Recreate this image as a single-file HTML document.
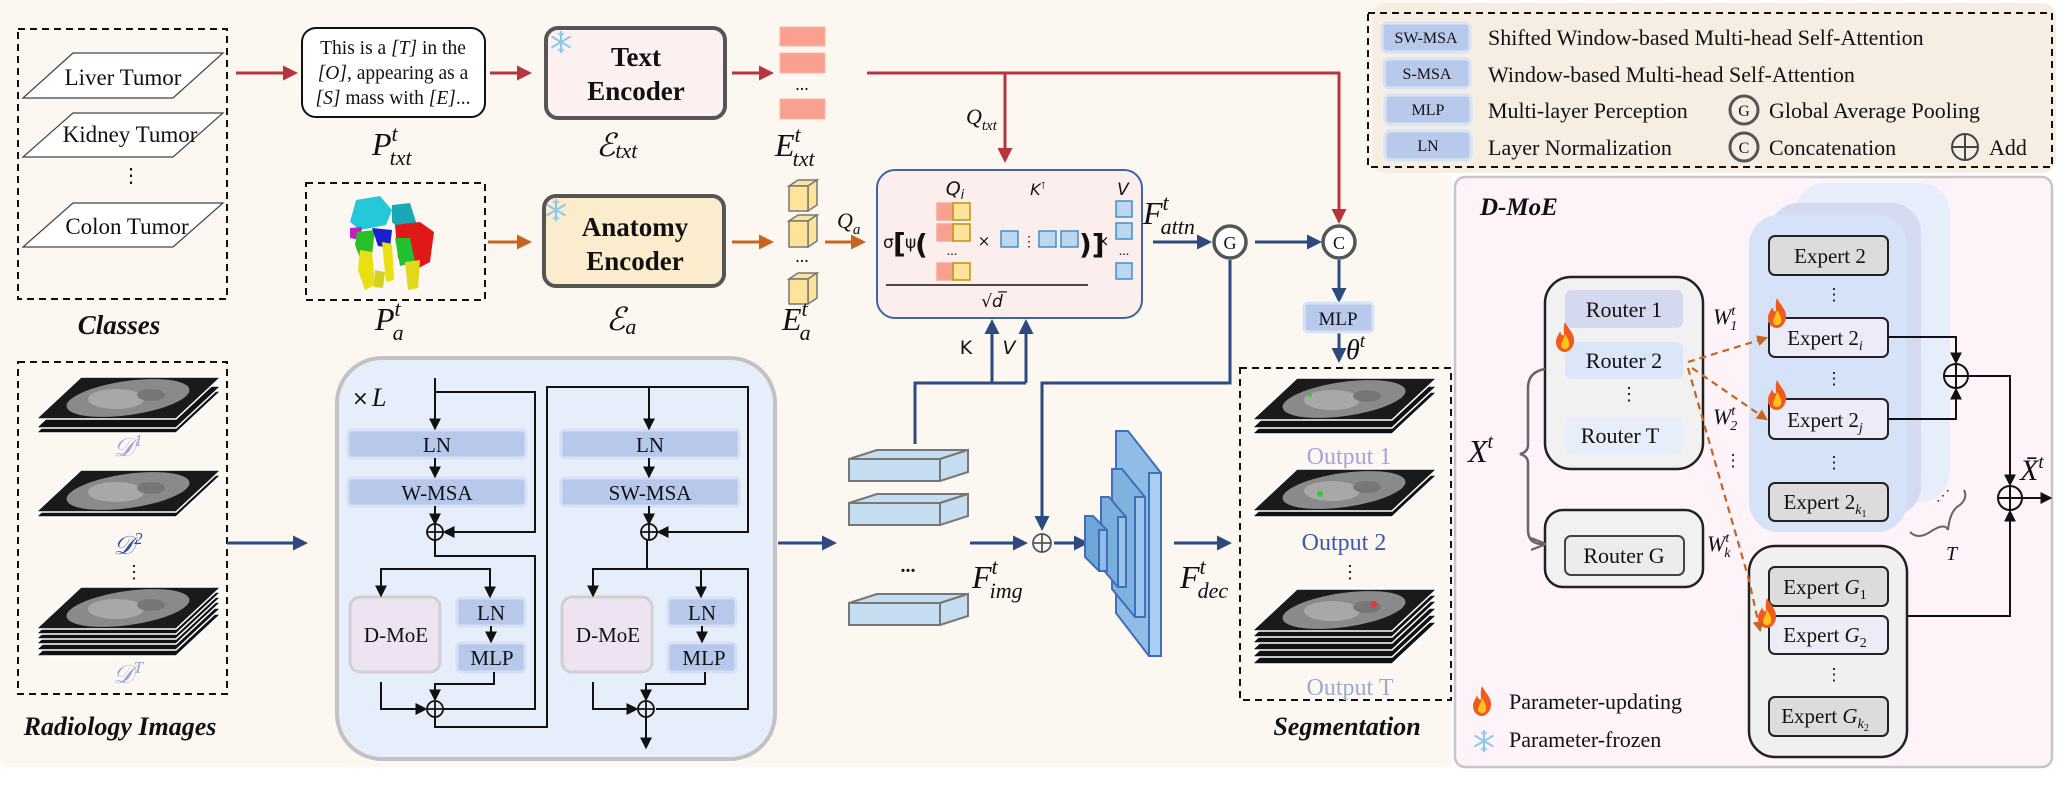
<!DOCTYPE html>
<html><head><meta charset="utf-8"><style>
html,body{margin:0;padding:0;background:#fff;}
svg{display:block;font-family:"Liberation Serif","DejaVu Serif",serif;}
text{font-family:"Liberation Serif","DejaVu Serif",serif;fill:#111;}
text[font-family="DejaVu Sans"]{font-family:"DejaVu Sans",sans-serif;}
.m{font-style:italic;}
</style></head><body>
<svg width="2068" height="808" viewBox="0 0 2068 808" xmlns="http://www.w3.org/2000/svg" font-family="Liberation Serif, serif">
<defs>
<marker id="ar" viewBox="0 0 10 10" refX="8" refY="5" markerWidth="5" markerHeight="5" orient="auto"><path d="M0,0L10,5L0,10z" fill="#b8343c"/></marker>
<marker id="ao" viewBox="0 0 10 10" refX="8" refY="5" markerWidth="5" markerHeight="5" orient="auto"><path d="M0,0L10,5L0,10z" fill="#c8641e"/></marker>
<marker id="an" viewBox="0 0 10 10" refX="8" refY="5" markerWidth="5" markerHeight="5" orient="auto"><path d="M0,0L10,5L0,10z" fill="#2a4a80"/></marker>
<marker id="ak" viewBox="0 0 10 10" refX="8" refY="5" markerWidth="6" markerHeight="6" orient="auto"><path d="M0,0L10,5L0,10z" fill="#111"/></marker>
<marker id="ag" viewBox="0 0 10 10" refX="8" refY="5" markerWidth="6" markerHeight="6" orient="auto"><path d="M0,1L10,5L0,9" fill="none" stroke="#666" stroke-width="1.5"/></marker>
<g id="slice"><polygon points="0,42 45,0 185,0 140,42" fill="#111" stroke="#fff" stroke-width="1.5"/></g>
<g id="ctop"><polygon points="0,42 45,0 185,0 140,42" fill="#1a1a1a" stroke="#fff" stroke-width="1.5"/><ellipse cx="92" cy="21" rx="62" ry="17" fill="#8a8a8a" transform="rotate(-8 92 21)"/><ellipse cx="80" cy="22" rx="28" ry="10" fill="#a8a8a8"/><ellipse cx="115" cy="18" rx="14" ry="6" fill="#777"/></g>
<g id="fire"><path d="M10,0C14,8 20,12 19,20C18,27 13,30 10,30C5,30 1,26 1,20C1,15 4,13 5,9C6,13 8,14 9,13C9,9 8,5 10,0z" fill="#f25a1d"/><path d="M10,12C13,17 15,20 14,24C13,28 7,28 6,24C6,21 8,19 10,12z" fill="#ffc21f"/></g>
<g id="snow" stroke="#8cc8ee" stroke-width="2" fill="none"><path d="M0,-11V11M-9.5,-5.5L9.5,5.5M-9.5,5.5L9.5,-5.5"/><path d="M-3,-9L0,-6L3,-9M-3,9L0,6L3,9" stroke-width="1.4"/></g>
</defs>

<path d="M0,0H1440V175H1452V767H12Q0,767 0,755Z" fill="#fcf8f1"/>
<rect x="1372" y="3" width="684" height="170" rx="14" fill="#f6ede3"/>
<rect x="1368" y="13" width="684" height="154" fill="none" stroke="#111" stroke-width="2" stroke-dasharray="7,5"/>
<rect x="1455" y="177" width="597" height="590" rx="10" fill="#fdf3f8" stroke="#c6c6c6" stroke-width="2.5"/>

<rect x="18" y="29" width="209" height="270" fill="none" stroke="#111" stroke-width="2" stroke-dasharray="7,5"/>
<polygon points="23,98 73,53 223,53 173,98" fill="#fff" stroke="#444" stroke-width="1.2"/>
<text x="123" y="85" font-size="23" text-anchor="middle">Liver Tumor</text>
<polygon points="23,157 73,113 223,113 173,157" fill="#fff" stroke="#444" stroke-width="1.2"/>
<text x="130" y="142" font-size="23" text-anchor="middle">Kidney Tumor</text>
<text x="131" y="182" font-size="20" text-anchor="middle">⋮</text>
<polygon points="23,247 73,203 223,203 173,247" fill="#fff" stroke="#444" stroke-width="1.2"/>
<text x="127" y="234" font-size="23" text-anchor="middle">Colon Tumor</text>
<text x="119" y="334" font-size="27" font-weight="bold" font-style="italic" text-anchor="middle">Classes</text>

<rect x="302" y="28" width="183" height="89" rx="14" fill="#fff" stroke="#111" stroke-width="2"/>
<text x="393" y="54" font-size="19.5" text-anchor="middle">This is a <tspan font-style="italic">[T]</tspan> in the</text>
<text x="393" y="79" font-size="19.5" text-anchor="middle"><tspan font-style="italic">[O]</tspan>, appearing as a</text>
<text x="393" y="104" font-size="19.5" text-anchor="middle"><tspan font-style="italic">[S]</tspan> mass with <tspan font-style="italic">[E]</tspan>...</text>
<text x="372" y="155" font-size="32" class="m">P<tspan dy="-14" font-size="22">t</tspan><tspan dx="-8" dy="24" font-size="22">txt</tspan></text>

<rect x="546" y="28" width="179" height="90" rx="12" fill="#fdf0f0" stroke="#555" stroke-width="4"/>
<use href="#snow" x="561" y="42"/>
<text x="636" y="66" font-size="27" font-weight="bold" text-anchor="middle">Text</text>
<text x="636" y="100" font-size="27" font-weight="bold" text-anchor="middle">Encoder</text>
<text x="596" y="156" font-size="32" class="m">ℰ<tspan dy="2" font-size="22">txt</tspan></text>

<rect x="780" y="27" width="45" height="19" fill="#f9a08e" stroke="#f4b8a8"/>
<rect x="780" y="53" width="45" height="20" fill="#f9a08e" stroke="#f4b8a8"/>
<text x="802" y="90" font-size="18" text-anchor="middle">...</text>
<rect x="780" y="99" width="45" height="20" fill="#f9a08e" stroke="#f4b8a8"/>
<text x="775" y="156" font-size="32" class="m">E<tspan dy="-14" font-size="22">t</tspan><tspan dx="-8" dy="24" font-size="22">txt</tspan></text>

<g stroke="#b8343c" stroke-width="3" fill="none">
<line x1="236" y1="73" x2="295" y2="73" marker-end="url(#ar)"/>
<line x1="490" y1="73" x2="529" y2="73" marker-end="url(#ar)"/>
<line x1="732" y1="73" x2="771" y2="73" marker-end="url(#ar)"/>
<polyline points="867,73 1339,73 1339,221" marker-end="url(#ar)"/>
<line x1="1005" y1="73" x2="1005" y2="160" marker-end="url(#ar)"/>
</g>
<text x="966" y="124" font-size="22" class="m">Q<tspan dy="6" font-size="15">txt</tspan></text>

<rect x="306" y="183" width="179" height="117" fill="none" stroke="#111" stroke-width="2" stroke-dasharray="7,5"/>
<g>
<path d="M356,200L380,196L392,210L386,225L360,230L350,222Z" fill="#25c8d8"/>
<path d="M392,205L410,203L417,225L400,230L392,222Z" fill="#1aa8b4"/>
<path d="M395,225L420,222L434,232L430,262L415,270L398,258Z" fill="#e01818"/>
<path d="M350,228L362,227L360,240L350,238Z" fill="#c020c0"/>
<path d="M357,232L375,230L372,255L360,258L355,245Z" fill="#28c028"/>
<path d="M372,228L392,230L390,248L378,246Z" fill="#1a20d0"/>
<path d="M395,238L410,238L415,262L400,266Z" fill="#20c030"/>
<path d="M360,250L372,252L375,285L365,290L358,270Z" fill="#e8e010"/>
<path d="M382,242L392,244L394,280L386,282Z" fill="#e8e010"/>
<path d="M405,262L420,260L418,288L408,290Z" fill="#e0d818"/>
<path d="M375,270L385,272L383,288L374,287Z" fill="#d8d020"/>
</g>
<text x="375" y="330" font-size="32" class="m">P<tspan dy="-14" font-size="22">t</tspan><tspan dx="-8" dy="24" font-size="22">a</tspan></text>

<rect x="544" y="196" width="180" height="90" rx="12" fill="#fbecce" stroke="#555" stroke-width="4"/>
<use href="#snow" x="556" y="210"/>
<text x="635" y="236" font-size="27" font-weight="bold" text-anchor="middle">Anatomy</text>
<text x="635" y="270" font-size="27" font-weight="bold" text-anchor="middle">Encoder</text>
<text x="606" y="330" font-size="32" class="m">ℰ<tspan dy="4" font-size="22">a</tspan></text>

<g fill="#fde49a" stroke="#777" stroke-width="1.5">
<polygon points="789,186 798,180 817,180 808,186"/><polygon points="808,186 817,180 817,205 808,211"/><rect x="789" y="186" width="19" height="25"/>
<polygon points="789,221 798,215 817,215 808,221"/><polygon points="808,221 817,215 817,241 808,247"/><rect x="789" y="221" width="19" height="26"/>
<polygon points="789,279 798,273 817,273 808,279"/><polygon points="808,279 817,273 817,298 808,304"/><rect x="789" y="279" width="19" height="25"/>
</g>
<text x="802" y="262" font-size="18" text-anchor="middle">...</text>
<text x="782" y="330" font-size="32" class="m">E<tspan dy="-14" font-size="22">t</tspan><tspan dx="-8" dy="24" font-size="22">a</tspan></text>

<g stroke="#c8641e" stroke-width="3" fill="none">
<line x1="488" y1="242" x2="529" y2="242" marker-end="url(#ao)"/>
<line x1="732" y1="242" x2="771" y2="242" marker-end="url(#ao)"/>
<line x1="825" y1="242" x2="863" y2="242" marker-end="url(#ao)"/>
</g>
<text x="837" y="228" font-size="22" class="m">Q<tspan dy="6" font-size="15">a</tspan></text>

<rect x="877" y="170" width="265" height="148" rx="18" fill="#fdeeee" stroke="#3e64a6" stroke-width="2"/>
<text x="955" y="195" font-size="19" class="m" font-family="DejaVu Sans" text-anchor="middle">Q<tspan dy="4" font-size="13">i</tspan></text>
<text x="1038" y="195" font-size="16" class="m" font-family="DejaVu Sans" text-anchor="middle">K<tspan dy="-6" font-size="10">⊺</tspan></text>
<text x="1123" y="195" font-size="17" class="m" font-family="DejaVu Sans" text-anchor="middle">V</text>
<g stroke-width="1.5">
<rect x="937" y="203" width="16" height="17" fill="#f9a08e" stroke="#f4a898"/><rect x="953" y="203" width="17" height="17" fill="#fde49a" stroke="#c09010"/>
<rect x="937" y="224" width="16" height="17" fill="#f9a08e" stroke="#f4a898"/><rect x="953" y="224" width="17" height="17" fill="#fde49a" stroke="#c09010"/>
<rect x="937" y="263" width="16" height="17" fill="#f9a08e" stroke="#f4a898"/><rect x="953" y="263" width="17" height="17" fill="#fde49a" stroke="#c09010"/>
<rect x="1001" y="231" width="17" height="16" fill="#bcd6ee" stroke="#3f8ed0"/>
<rect x="1039" y="231" width="17" height="16" fill="#bcd6ee" stroke="#3f8ed0"/>
<rect x="1061" y="231" width="17" height="16" fill="#bcd6ee" stroke="#3f8ed0"/>
<rect x="1116" y="201" width="16" height="16" fill="#bcd6ee" stroke="#3f8ed0"/>
<rect x="1116" y="223" width="16" height="16" fill="#bcd6ee" stroke="#3f8ed0"/>
<rect x="1116" y="263" width="16" height="16" fill="#bcd6ee" stroke="#3f8ed0"/>
</g>
<text x="883" y="248" font-size="17" font-family="DejaVu Sans">σ</text>
<text x="893" y="253" font-size="28" font-weight="bold" font-family="DejaVu Sans">[</text>
<text x="905" y="248" font-size="17" font-family="DejaVu Sans">ψ</text>
<text x="915" y="254" font-size="28" font-weight="bold" font-family="DejaVu Sans">(</text>
<text x="952" y="255" font-size="14" text-anchor="middle">...</text>
<text x="984" y="246" font-size="15" font-family="DejaVu Sans" text-anchor="middle">×</text>
<text x="1029" y="246" font-size="14" text-anchor="middle">⋮</text>
<text x="1079" y="254" font-size="28" font-weight="bold" font-family="DejaVu Sans">)]</text>
<text x="1103" y="246" font-size="15" font-family="DejaVu Sans" text-anchor="middle">×</text>
<text x="1124" y="255" font-size="14" text-anchor="middle">...</text>
<line x1="886" y1="285" x2="1088" y2="285" stroke="#111" stroke-width="1.5"/>
<text x="992" y="307" font-size="17" font-family="DejaVu Sans" class="m" text-anchor="middle">√d̅</text>
<text x="1143" y="224" font-size="32" class="m">F<tspan dy="-14" font-size="22">t</tspan><tspan dx="-8" dy="24" font-size="22">attn</tspan></text>

<g stroke="#2a4a80" stroke-width="3" fill="none">
<line x1="1153" y1="242" x2="1209" y2="242" marker-end="url(#an)"/>
<line x1="1255" y1="242" x2="1319" y2="242" marker-end="url(#an)"/>
<line x1="1339" y1="260" x2="1339" y2="300" marker-end="url(#an)"/>
<line x1="1339" y1="332" x2="1339" y2="360" marker-end="url(#an)"/>
<polyline points="1230,260 1230,383 1042,383 1042,528" marker-end="url(#an)"/>
<polyline points="915,444 915,383 1026,383"/>
<line x1="992" y1="383" x2="992" y2="322" marker-end="url(#an)"/>
<line x1="1026" y1="383" x2="1026" y2="322" marker-end="url(#an)"/>
</g>
<circle cx="1230" cy="242" r="16" fill="#fff" stroke="#555" stroke-width="3.5"/><text x="1230" y="249" font-size="18" text-anchor="middle">G</text>
<circle cx="1339" cy="242" r="16" fill="#fff" stroke="#555" stroke-width="3.5"/><text x="1339" y="249" font-size="18" text-anchor="middle">C</text>
<rect x="1304" y="303" width="69" height="29" rx="4" fill="#b9c9ec" stroke="#d9e3f6" stroke-width="3"/>
<text x="1338" y="325" font-size="19" text-anchor="middle">MLP</text>
<text x="1346" y="359" font-size="28" class="m">θ<tspan dy="-12" font-size="19">t</tspan></text>
<text x="966" y="354" font-size="19" font-family="DejaVu Sans" text-anchor="middle">K</text>
<text x="1009" y="354" font-size="19" font-family="DejaVu Sans" class="m" text-anchor="middle">V</text>

<rect x="18" y="362" width="209" height="332" fill="none" stroke="#111" stroke-width="2" stroke-dasharray="7,5"/>
<use href="#slice" x="36" y="391"/><use href="#slice" x="36" y="386"/><use href="#ctop" x="36" y="377"/>
<text x="128" y="456" font-size="26" class="m" text-anchor="middle" style="fill:#a89ad8">𝒟<tspan dy="-10" font-size="17">1</tspan></text>
<use href="#slice" x="36" y="475"/><use href="#ctop" x="36" y="470"/>
<text x="128" y="554" font-size="26" class="m" text-anchor="middle" style="fill:#2f4ea0">𝒟<tspan dy="-10" font-size="17">2</tspan></text>
<text x="134" y="578" font-size="18" text-anchor="middle">⋮</text>
<use href="#slice" x="36" y="614"/><use href="#slice" x="36" y="608"/><use href="#slice" x="36" y="602"/><use href="#slice" x="36" y="597"/><use href="#slice" x="36" y="592"/><use href="#ctop" x="36" y="587"/>
<text x="128" y="683" font-size="26" class="m" text-anchor="middle" style="fill:#93a6d4">𝒟<tspan dy="-10" font-size="17">T</tspan></text>
<text x="120" y="735" font-size="26" font-weight="bold" font-style="italic" text-anchor="middle">Radiology Images</text>

<g stroke="#2a4a80" stroke-width="3" fill="none">
<line x1="227" y1="543" x2="305" y2="543" marker-end="url(#an)"/>
<line x1="778" y1="543" x2="834" y2="543" marker-end="url(#an)"/>
<line x1="970" y1="543" x2="1025" y2="543" marker-end="url(#an)"/>
<line x1="1054" y1="543" x2="1086" y2="543" marker-end="url(#an)"/>
<line x1="1174" y1="543" x2="1229" y2="543" marker-end="url(#an)"/>
</g>

<rect x="337" y="358" width="438" height="401" rx="45" fill="#e6eefb" stroke="#c2c2c2" stroke-width="4"/>
<text x="352" y="405" font-size="20" font-family="DejaVu Sans">×</text><text x="372" y="406" font-size="26" class="m">L</text>
<g font-size="21" text-anchor="middle">
<rect x="348" y="430" width="178" height="28" rx="4" fill="#b7c8ea" stroke="#d6e0f5" stroke-width="3"/><text x="437" y="452">LN</text>
<rect x="348" y="478" width="178" height="28" rx="4" fill="#b7c8ea" stroke="#d6e0f5" stroke-width="3"/><text x="437" y="500">W-MSA</text>
<rect x="561" y="430" width="178" height="28" rx="4" fill="#b7c8ea" stroke="#d6e0f5" stroke-width="3"/><text x="650" y="452">LN</text>
<rect x="561" y="478" width="178" height="28" rx="4" fill="#b7c8ea" stroke="#d6e0f5" stroke-width="3"/><text x="650" y="500">SW-MSA</text>
<rect x="350" y="597" width="90" height="75" rx="10" fill="#ede3f3" stroke="#d0d0d0" stroke-width="3"/><text x="396" y="642">D-MoE</text>
<rect x="457" y="598" width="68" height="28" rx="4" fill="#b7c8ea" stroke="#d6e0f5" stroke-width="3"/><text x="491" y="620">LN</text>
<rect x="457" y="643" width="68" height="29" rx="4" fill="#b7c8ea" stroke="#d6e0f5" stroke-width="3"/><text x="492" y="665">MLP</text>
<rect x="562" y="597" width="90" height="75" rx="10" fill="#ede3f3" stroke="#d0d0d0" stroke-width="3"/><text x="608" y="642">D-MoE</text>
<rect x="668" y="598" width="68" height="28" rx="4" fill="#b7c8ea" stroke="#d6e0f5" stroke-width="3"/><text x="702" y="620">LN</text>
<rect x="668" y="643" width="68" height="29" rx="4" fill="#b7c8ea" stroke="#d6e0f5" stroke-width="3"/><text x="704" y="665">MLP</text>
</g>
<g stroke="#111" stroke-width="2" fill="none">
<line x1="435" y1="378" x2="435" y2="428" marker-end="url(#ak)"/>
<polyline points="435,392 535,392 535,532 445,532" marker-end="url(#ak)"/>
<line x1="435" y1="458" x2="435" y2="476" marker-end="url(#ak)"/>
<line x1="435" y1="506" x2="435" y2="523" marker-end="url(#ak)"/>
<polyline points="435,540 435,556 535,556 535,709 443,709"/>
<polyline points="435,569 381,569 381,595" marker-end="url(#ak)"/>
<polyline points="435,569 490,569 490,596" marker-end="url(#ak)"/>
<line x1="491" y1="626" x2="491" y2="641" marker-end="url(#ak)"/>
<polyline points="494,672 494,684 435,684 435,699" marker-end="url(#ak)"/>
<polyline points="381,682 381,709 425,709" marker-end="url(#ak)"/>
<polyline points="435,717 435,727 547,727 547,387 649,387"/>
<line x1="649" y1="387" x2="649" y2="428" marker-end="url(#ak)"/>
<polyline points="649,387 748,387 748,532 659,532" marker-end="url(#ak)"/>
<line x1="649" y1="458" x2="649" y2="476" marker-end="url(#ak)"/>
<line x1="649" y1="506" x2="649" y2="523" marker-end="url(#ak)"/>
<polyline points="647,540 647,569 748,569 748,709 656,709"/>
<polyline points="647,569 593,569 593,595" marker-end="url(#ak)"/>
<polyline points="647,569 701,569 701,596" marker-end="url(#ak)"/>
<line x1="702" y1="626" x2="702" y2="641" marker-end="url(#ak)"/>
<polyline points="705,672 705,684 646,684 646,699" marker-end="url(#ak)"/>
<polyline points="593,682 593,709 636,709" marker-end="url(#ak)"/>
<line x1="646" y1="717" x2="646" y2="747" marker-end="url(#ak)"/>
</g>
<g stroke="#111" stroke-width="1.8" fill="#e6eefb">
<circle cx="435" cy="532" r="8"/><path d="M427,532H443M435,524V540" fill="none"/>
<circle cx="649" cy="532" r="8"/><path d="M641,532H657M649,524V540" fill="none"/>
<circle cx="435" cy="709" r="8"/><path d="M427,709H443M435,701V717" fill="none"/>
<circle cx="646" cy="709" r="8"/><path d="M638,709H654M646,701V717" fill="none"/>
</g>

<g fill="#c4ddf1" stroke="#777" stroke-width="2">
<polygon points="849,459 877,450 968,450 940,459"/><polygon points="940,459 968,450 968,472 940,481"/><rect x="849" y="459" width="91" height="22"/>
<polygon points="849,503 877,494 968,494 940,503"/><polygon points="940,503 968,494 968,516 940,525"/><rect x="849" y="503" width="91" height="22"/>
<polygon points="849,603 877,594 968,594 940,603"/><polygon points="940,603 968,594 968,616 940,625"/><rect x="849" y="603" width="91" height="22"/>
</g>
<text x="908" y="572" font-size="20" text-anchor="middle" font-weight="bold">...</text>
<text x="972" y="588" font-size="32" class="m">F<tspan dy="-14" font-size="22">t</tspan><tspan dx="-8" dy="24" font-size="22">img</tspan></text>
<circle cx="1042" cy="543" r="9" fill="#fcf8f1" stroke="#555" stroke-width="1.8"/><path d="M1033,543H1051M1042,534V552" stroke="#555" stroke-width="1.8"/>

<g stroke="#3f6fb8" stroke-width="2">
<polygon points="1116,431 1128,431 1161,473 1161,656 1149,656 1116,613" fill="#8fbde6"/><rect x="1149" y="473" width="12" height="183" fill="#a9cff0"/>
<polygon points="1112,469 1122,469 1145,497 1145,617 1135,617 1112,589" fill="#7fb2df"/><rect x="1135" y="497" width="10" height="120" fill="#9cc6ec"/>
<polygon points="1101,497 1109,497 1126,517 1126,587 1118,587 1101,567" fill="#7aaedc"/><rect x="1118" y="517" width="8" height="70" fill="#98c3ea"/>
<polygon points="1085,516 1093,516 1107,530 1107,571 1099,571 1085,557" fill="#6fa6d8"/><rect x="1099" y="530" width="8" height="41" fill="#8fbbe6"/>
</g>
<text x="1180" y="588" font-size="32" class="m">F<tspan dy="-14" font-size="22">t</tspan><tspan dx="-8" dy="24" font-size="22">dec</tspan></text>

<rect x="1240" y="368" width="211" height="332" fill="none" stroke="#111" stroke-width="2" stroke-dasharray="7,5"/>
<use href="#slice" x="1252" y="392"/><use href="#slice" x="1252" y="386"/><use href="#ctop" x="1252" y="378"/>
<circle cx="1310" cy="395" r="2" fill="#3c3"/>
<text x="1349" y="464" font-size="24" text-anchor="middle" style="fill:#a9a0d8">Output 1</text>
<use href="#slice" x="1252" y="475"/><use href="#ctop" x="1252" y="469"/>
<circle cx="1320" cy="494" r="3" fill="#3c3"/>
<text x="1344" y="550" font-size="24" text-anchor="middle" style="fill:#3a5aa8">Output 2</text>
<text x="1350" y="578" font-size="18" text-anchor="middle">⋮</text>
<use href="#slice" x="1252" y="622"/><use href="#slice" x="1252" y="615"/><use href="#slice" x="1252" y="608"/><use href="#slice" x="1252" y="601"/><use href="#slice" x="1252" y="595"/><use href="#ctop" x="1252" y="589"/>
<circle cx="1374" cy="604" r="3" fill="#e33"/>
<text x="1350" y="695" font-size="24" text-anchor="middle" style="fill:#9aaad0">Output T</text>
<text x="1347" y="735" font-size="26" font-weight="bold" font-style="italic" text-anchor="middle">Segmentation</text>

<g font-size="16" text-anchor="middle">
<rect x="1382" y="23" width="88" height="29" rx="5" fill="#b9c9ec" stroke="#d8e2f5" stroke-width="3"/><text x="1426" y="43">SW-MSA</text>
<rect x="1384" y="59" width="86" height="29" rx="5" fill="#b9c9ec" stroke="#d8e2f5" stroke-width="3"/><text x="1427" y="79">S-MSA</text>
<rect x="1385" y="95" width="86" height="29" rx="5" fill="#b9c9ec" stroke="#d8e2f5" stroke-width="3"/><text x="1428" y="115">MLP</text>
<rect x="1385" y="131" width="86" height="29" rx="5" fill="#b9c9ec" stroke="#d8e2f5" stroke-width="3"/><text x="1428" y="151">LN</text>
</g>
<g font-size="22">
<text x="1488" y="45">Shifted Window-based Multi-head Self-Attention</text>
<text x="1488" y="82">Window-based Multi-head Self-Attention</text>
<text x="1488" y="118">Multi-layer Perception</text>
<text x="1488" y="155">Layer Normalization</text>
<text x="1769" y="118">Global Average Pooling</text>
<text x="1769" y="155">Concatenation</text>
<text x="1989" y="155">Add</text>
</g>
<circle cx="1744" cy="110" r="14" fill="none" stroke="#555" stroke-width="3"/><text x="1744" y="116" font-size="16" text-anchor="middle">G</text>
<circle cx="1744" cy="147" r="14" fill="none" stroke="#555" stroke-width="3"/><text x="1744" y="153" font-size="16" text-anchor="middle">C</text>
<circle cx="1965" cy="147" r="13" fill="none" stroke="#444" stroke-width="2"/><path d="M1952,147H1978M1965,134V160" stroke="#444" stroke-width="2"/>

<text x="1480" y="215" font-size="25" font-weight="bold" font-style="italic">D-MoE</text>
<rect x="1795" y="183" width="155" height="319" rx="30" fill="#e6eefb"/>
<rect x="1769" y="203" width="152" height="313" rx="30" fill="#d3daf2"/>
<rect x="1749" y="215" width="158" height="317" rx="30" fill="#d6e2f7"/>

<rect x="1545" y="277" width="158" height="192" rx="26" fill="#f1f1f1" stroke="#222" stroke-width="2.5"/>
<rect x="1565" y="290" width="118" height="38" rx="7" fill="#d5d9f0"/><text x="1624" y="317" font-size="22" text-anchor="middle">Router 1</text>
<rect x="1565" y="342" width="118" height="37" rx="7" fill="#dbe6f8"/><text x="1624" y="368" font-size="22" text-anchor="middle">Router 2</text>
<text x="1629" y="400" font-size="18" text-anchor="middle">⋮</text>
<rect x="1565" y="417" width="118" height="37" rx="7" fill="#e7eefa"/><text x="1620" y="443" font-size="22" text-anchor="middle">Router T</text>
<use href="#fire" x="1555" y="322"/>

<rect x="1545" y="510" width="158" height="77" rx="18" fill="#f1f1f1" stroke="#222" stroke-width="2.5"/>
<rect x="1565" y="536" width="119" height="39" rx="6" fill="#ececec" stroke="#444" stroke-width="2"/><text x="1624" y="563" font-size="22" text-anchor="middle">Router G</text>

<g font-size="21" text-anchor="middle">
<rect x="1769" y="236" width="119" height="39" rx="6" fill="#dcdcdc" stroke="#222" stroke-width="2"/><text x="1830" y="263">Expert 2</text>
<text x="1834" y="300" font-size="17">⋮</text>
<rect x="1769" y="318" width="119" height="39" rx="6" fill="#ecebf8" stroke="#222" stroke-width="2"/><text x="1825" y="345">Expert 2<tspan font-size="14" dy="5" font-style="italic">i</tspan></text>
<text x="1834" y="384" font-size="17">⋮</text>
<rect x="1769" y="399" width="119" height="40" rx="6" fill="#ecebf8" stroke="#222" stroke-width="2"/><text x="1825" y="427">Expert 2<tspan font-size="14" dy="5" font-style="italic">j</tspan></text>
<text x="1834" y="468" font-size="17">⋮</text>
<rect x="1769" y="483" width="119" height="38" rx="6" fill="#dcdcdc" stroke="#222" stroke-width="2"/><text x="1825" y="509">Expert 2<tspan font-size="14" dy="5" font-style="italic">k</tspan><tspan font-size="10" dy="3">1</tspan></text>
</g>
<use href="#fire" x="1767" y="298"/>
<use href="#fire" x="1767" y="380"/>

<rect x="1749" y="546" width="158" height="211" rx="26" fill="#f0f0f0" stroke="#222" stroke-width="2.5"/>
<g font-size="21" text-anchor="middle">
<rect x="1769" y="567" width="119" height="39" rx="6" fill="#dcdcdc" stroke="#222" stroke-width="2"/><text x="1825" y="594">Expert <tspan font-style="italic">G</tspan><tspan font-size="14" dy="5">1</tspan></text>
<rect x="1769" y="616" width="119" height="38" rx="6" fill="#ecebf8" stroke="#222" stroke-width="2"/><text x="1825" y="642">Expert <tspan font-style="italic">G</tspan><tspan font-size="14" dy="5">2</tspan></text>
<text x="1834" y="680" font-size="17">⋮</text>
<rect x="1769" y="697" width="119" height="39" rx="6" fill="#dcdcdc" stroke="#222" stroke-width="2"/><text x="1825" y="723">Expert <tspan font-style="italic">G</tspan><tspan font-size="14" dy="5" font-style="italic">k</tspan><tspan font-size="10" dy="3">2</tspan></text>
</g>
<use href="#fire" x="1757" y="598"/>

<g stroke="#c8641e" stroke-width="2.2" fill="none" stroke-dasharray="7,5">
<line x1="1688" y1="362" x2="1766" y2="338" marker-end="url(#ao)"/>
<line x1="1692" y1="368" x2="1766" y2="419" marker-end="url(#ao)"/>
<polyline points="1688,368 1749,580 1760,630" marker-end="url(#ao)"/>
</g>
<text x="1713" y="324" font-size="22" class="m">W<tspan dy="-9" font-size="14">t</tspan><tspan dx="-5" dy="15" font-size="14">1</tspan></text>
<text x="1713" y="424" font-size="22" class="m">W<tspan dy="-9" font-size="14">t</tspan><tspan dx="-5" dy="15" font-size="14">2</tspan></text>
<text x="1733" y="466" font-size="17" text-anchor="middle">⋮</text>
<text x="1707" y="551" font-size="22" class="m">W<tspan dy="-9" font-size="14">t</tspan><tspan dx="-5" dy="15" font-size="14">k</tspan></text>

<text x="1468" y="462" font-size="32" class="m">X<tspan dy="-14" font-size="20">t</tspan></text>
<g stroke="#666" stroke-width="2.5" fill="none">
<path d="M1545,369Q1528,372 1528,388V445Q1528,452 1520,454Q1528,456 1528,463V530Q1528,544 1543,544" marker-end="url(#ag)"/>
</g>
<path d="M1910,532Q1918,540 1930,532Q1945,522 1948,530Q1950,510 1960,505Q1968,498 1964,490" fill="none" stroke="#666" stroke-width="2"/>
<text x="1946" y="560" font-size="20" class="m">T</text>
<text x="1936" y="500" font-size="14">⋰</text>

<g stroke="#111" stroke-width="2" fill="none">
<polyline points="1888,337 1956,337 1956,362" marker-end="url(#ak)"/>
<polyline points="1888,419 1956,419 1956,390" marker-end="url(#ak)"/>
<polyline points="1968,376 2010,376 2010,484" marker-end="url(#ak)"/>
<polyline points="1907,616 2010,616 2010,512" marker-end="url(#ak)"/>
<line x1="2022" y1="498" x2="2050" y2="498" marker-end="url(#ak)"/>
</g>
<circle cx="1956" cy="376" r="12" fill="#fdf3f8" stroke="#111" stroke-width="2"/><path d="M1944,376H1968M1956,364V388" stroke="#111" stroke-width="2"/>
<circle cx="2010" cy="498" r="12" fill="#fdf3f8" stroke="#111" stroke-width="2"/><path d="M1998,498H2022M2010,486V510" stroke="#111" stroke-width="2"/>
<text x="2020" y="480" font-size="30" class="m">X̄<tspan dy="-12" font-size="19">t</tspan></text>

<use href="#fire" x="1472" y="686"/>
<text x="1509" y="709" font-size="22">Parameter-updating</text>
<use href="#snow" x="1484" y="741"/>
<text x="1509" y="747" font-size="22">Parameter-frozen</text>
</svg>
</body></html>
